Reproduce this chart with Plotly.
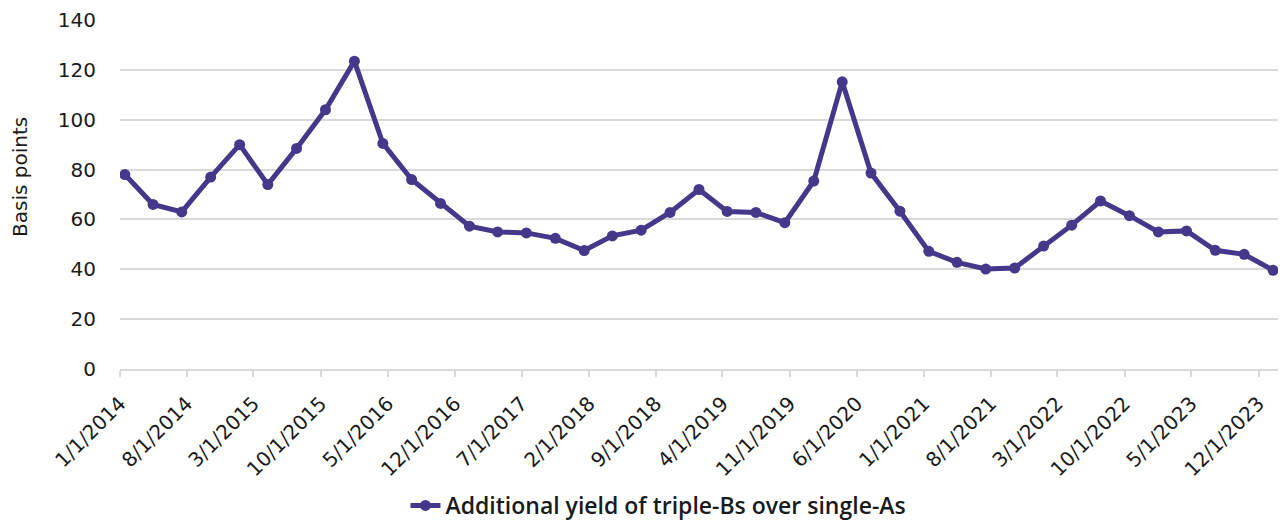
import pandas as pd
import plotly.graph_objects as go

# Quarterly observation dates
dates = pd.date_range("2014-01-01", "2024-01-01", freq="QS").strftime("%Y-%m-%d").tolist()

spread_bp = [78, 66, 63, 77, 90, 74, 88.5, 104, 123.5, 90.5,
             76, 66.4, 57.3, 55, 54.6, 52.4, 47.5, 53.4, 55.7, 62.8,
             72, 63.2, 62.8, 58.7, 75.4, 115.2, 78.6, 63.3, 47.2, 42.8,
             40.1, 40.5, 49.3, 57.7, 67.4, 61.5, 55, 55.4, 47.6, 46,
             39.6]

tick_labels = ["1/1/2014", "8/1/2014", "3/1/2015", "10/1/2015", "5/1/2016",
               "12/1/2016", "7/1/2017", "2/1/2018", "9/1/2018", "4/1/2019",
               "11/1/2019", "6/1/2020", "1/1/2021", "8/1/2021", "3/1/2022",
               "10/1/2022", "5/1/2023", "12/1/2023"]
tick_vals = pd.to_datetime(tick_labels, format="%m/%d/%Y").strftime("%Y-%m-%d").tolist()

series_name = "Additional yield of triple-Bs over single-As"
y_ticks = [0, 20, 40, 60, 80, 100, 120, 140]

color = "#45388a"
tick_family = "DejaVu Sans, sans-serif"
legend_family = "Open Sans, DejaVu Sans, sans-serif"

fig = go.Figure()
fig.add_trace(go.Scatter(
    x=dates, y=spread_bp, name=series_name,
    mode="lines+markers",
    xperiod="M1", xperiodalignment="middle",
    line=dict(color=color, width=5),
    marker=dict(color=color, size=11),
))

fig.update_layout(
    width=1280, height=527,
    margin=dict(l=120, r=2, t=20, b=158, autoexpand=False),
    paper_bgcolor="white", plot_bgcolor="white",
    font=dict(family=tick_family, size=20, color="#1a1a1a"),
    showlegend=True,
    legend=dict(orientation="h", x=0.465, xanchor="center",
                y=-158 / 349, yanchor="bottom",
                font=dict(family=legend_family, size=23, weight=600, color="#1a1a1a")),
    xaxis=dict(
        type="date", automargin=False,
        range=["2014-01-01", "2024-02-01"],
        tickmode="array", tickvals=tick_vals, ticktext=tick_labels,
        tickangle=-45,
        showgrid=False,
        showline=True, linecolor="#d9d9d9", linewidth=2,
        ticks="outside", ticklen=6, tickcolor="#d9d9d9", tickwidth=2,
        ticklabelstandoff=7,
        tickfont=dict(size=20),
    ),
    yaxis=dict(
        automargin=False,
        range=[0, 140], tickmode="array", tickvals=y_ticks,
        showgrid=True, gridcolor="#d9d9d9", gridwidth=1.5,
        zeroline=False, showline=False,
        ticks="", ticklabelstandoff=23,
        tickfont=dict(size=20),
    ),
)

fig.add_annotation(
    text="Basis points", textangle=-90,
    xref="paper", yref="paper",
    x=(20 - 120) / 1158, y=(369 - 177) / 349,
    xanchor="center", yanchor="middle", showarrow=False,
    font=dict(size=20, color="#1a1a1a"),
)

fig.write_html("out.html")
